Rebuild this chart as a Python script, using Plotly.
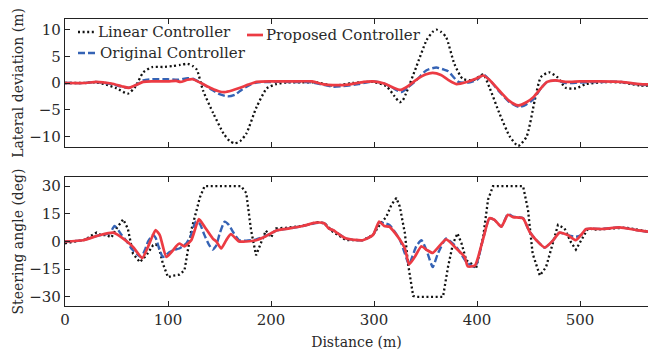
import plotly.graph_objects as go

# ---------------- data ----------------
# Top panel: lateral deviation (m)
lin_lat_d = [0, 15, 30, 40, 50, 61, 68, 76, 85, 95, 105, 112, 119, 124, 128, 134, 144, 154, 160, 165, 170, 176, 186, 196, 205, 215, 230, 245, 260, 279, 299, 312, 320, 325, 328, 331, 341, 351, 357, 360.5, 365, 370, 378, 386, 396, 406, 412, 422, 432, 440, 448, 456, 462, 470, 478.5, 486, 496, 506, 522, 540, 558, 570]
lin_lat_v = [0, 0, 0.1, -0.3, -1.0, -2.0, -0.8, 2.0, 3.0, 3.0, 3.2, 3.4, 3.6, 3.2, 2.5, -1.4, -5.7, -9.5, -10.9, -11.3, -10.9, -9.5, -4.5, -1.0, -0.2, 0.1, 0.1, 0.1, -0.5, 0, 0.2, -0.6, -2.5, -3.6, -3.2, -2.0, 3.0, 8.0, 9.6, 10.0, 9.6, 8.6, 3.6, 0.8, 0.5, 1.6, -0.8, -5.8, -10.1, -11.8, -10.1, -3.3, 1.1, 2.0, 1.0, -0.9, -1.0, -0.2, 0.15, 0.1, -0.45, -0.5]

org_lat_d = [0, 20, 30, 45, 55, 62, 70, 76, 85, 100, 110, 119, 124, 132, 142, 150, 158, 165, 172, 180, 186, 200, 220, 240, 250, 260, 270, 285, 299, 310, 318, 326.6, 333, 341, 351, 360.5, 368, 372, 382, 392, 400, 406, 412, 422, 431, 441, 448, 455, 462, 468, 476, 486, 500, 520, 540, 558, 570]
org_lat_v = [0, 0, 0.2, -0.2, -0.7, -0.9, -0.3, 0.5, 0.7, 0.7, 0.6, 0.9, 0.8, 0, -1.2, -2.1, -2.5, -2.2, -1.2, -0.3, 0.1, 0.2, 0.2, 0.1, -0.3, -0.7, -0.6, -0.2, 0.3, -0.1, -0.9, -1.7, -0.8, 0.5, 2.4, 2.9, 2.5, 2.2, 0.2, 0.1, 0.6, 1.6, 0.6, -1.7, -3.5, -4.5, -4.0, -3.0, -1.0, 0.2, 0.5, 0.0, 0.1, 0.2, 0.2, -0.3, -0.4]

pro_lat_d = [0, 20, 30, 45, 55, 62, 70, 76, 85, 100, 108, 112, 119, 124, 132, 142, 150, 155, 162, 170, 178, 186, 200, 220, 240, 250, 260, 275, 290, 299, 310, 318, 326, 333, 341, 350, 357, 365, 372, 380, 390, 400, 406, 412, 422, 431, 440, 448, 455, 462, 468, 476, 486, 500, 520, 540, 558, 570]
pro_lat_v = [0, 0, 0.2, -0.1, -0.6, -0.9, -0.3, 0.2, 0.3, 0.3, 0.4, 0.2, 0.6, 0.7, 0.0, -1.0, -1.6, -1.7, -1.4, -0.9, -0.3, 0.2, 0.3, 0.3, 0.3, -0.2, -0.4, -0.3, 0.2, 0.3, -0.1, -0.8, -1.3, -0.6, 0.6, 1.6, 1.9, 1.5, 0.6, -0.2, 0.2, 0.9, 1.4, 0.6, -1.5, -3.3, -4.2, -3.6, -2.6, -1.0, 0.2, 0.5, 0.2, 0.3, 0.3, 0.2, -0.2, -0.3]

# Bottom panel: steering angle (deg)
lin_st_d = [0, 10, 20, 25, 30.6, 35, 40, 45, 50, 56.5, 61, 66, 72.6, 79, 85.5, 88, 91, 95, 100, 105, 111, 116, 122.6, 127, 131, 135.5, 171, 176, 180.6, 185.5, 190, 195, 200, 205, 215, 230, 245, 252, 260, 273, 289, 299, 305.5, 312, 317, 321.7, 325, 330, 333, 338, 340, 367, 371.8, 376.7, 381, 385, 389.6, 394.5, 399, 406, 410.7, 415.5, 444.7, 449.5, 454, 461, 467, 474, 478.6, 485, 491, 496, 501, 507.8, 515, 530, 545, 555, 570]
lin_st_v = [-1, 0, 1, 3, 4.8, 3.5, 3.5, 2.2, 7.1, 12, 7, -6.6, -11.2, -7.5, -2, -1.5, -3, -12, -19.4, -18.5, -18, -15.7, 6.2, 15.4, 24, 30, 30, 26.3, 6.2, -7.5, -1, 5.9, 2.2, 7.1, 7.5, 8.4, 10.5, 9.9, 5.3, 0.7, 0.7, 3.5, 9, 13.5, 20, 23.6, 19, 4.4, -12, -29.5, -30, -30, -13.9, -1.1, 4.4, -1.1, -10.2, -12, -14.8, 2.6, 22.7, 30, 30, 17.2, -6.6, -18.5, -13.9, 0.7, 9, 7.1, -0.2, -4.4, 0.7, 7.1, 6.5, 7, 7.5, 6.5, 5]

org_st_d = [0, 15, 25, 30.6, 40, 43.5, 48, 52, 55, 60, 64.5, 70, 74, 78, 80.6, 85.5, 88, 91, 95, 101.6, 106, 111, 117.7, 122, 127, 131, 135, 140, 143.5, 147, 150, 155, 159, 163, 169, 176, 185, 195, 205, 218, 230.6, 243.5, 251.6, 256, 260, 273, 289, 299, 305, 310, 315, 325, 330, 334, 341, 346, 351, 357, 362, 370, 380, 389.6, 398, 406, 412, 417, 423.6, 430, 435, 444.7, 451, 457.6, 465.7, 474, 480, 488, 496, 501, 506, 522, 538.5, 554.7, 570]
org_st_v = [0, 0.5, 2, 3, 4, 4.4, 8.4, 6, 3.5, 0, -3.8, -7, -8.4, -4, 0, 3.5, 2, -3, -8.4, -5.7, -4.5, -3.8, -1.1, 3, 10.8, 9.5, 4, -2, -4.4, -2, 4, 10.8, 9, 5.3, 0.7, 0.5, 1, 3, 5.9, 7.1, 8.4, 10, 10, 7.1, 6.2, 1.6, 0.7, 3.5, 10.3, 9.9, 9, 1.1, -6.6, -12.4, -2.6, 0.7, -4.8, -13.9, -6.6, 1.6, -3, -11, -13.9, 1.6, 12.6, 11.7, 8, 15, 13.5, 12.6, 5.3, 0.7, -3.3, 0.7, 4.8, 3.5, 2.6, 3.5, 6.8, 6.8, 7.7, 6.2, 5]

pro_st_d = [0, 17.7, 34, 46.8, 56.5, 66, 75, 80.6, 85, 88, 92, 98.4, 104.8, 108, 111, 116, 122.6, 130, 135.5, 143.5, 147, 151.6, 156.5, 161, 169, 176, 185.5, 195, 205, 218, 230.6, 243.5, 251.6, 256, 260, 273, 289, 299, 305, 310, 315, 325, 330, 334, 339.5, 346, 351, 357, 370, 380, 388, 391, 398, 406, 412, 417, 423.6, 430, 435, 444.7, 451, 457.6, 465.7, 474, 480, 488, 496, 501, 506, 522, 538.5, 554.7, 570]
pro_st_v = [0, 0.7, 3.5, 4.8, 1.6, -2.9, -9, -2.9, 3, 6.2, 3.5, -8.4, -4.8, -2.5, -1.1, -2.6, 0.7, 12.1, 8, 1.6, 0, -3.8, 0.7, 4, 0, 0, 0.7, 2.9, 5.9, 7.1, 8.4, 10.2, 9.9, 7.1, 6.2, 1.6, 0.7, 3.5, 10.8, 8.4, 8, 1.1, -3.8, -12.4, -8.4, -2.6, -4.5, -6.2, 1.1, -3.8, -8.4, -13.5, -13, 1.6, 12.6, 11.7, 8, 14.5, 13.2, 12.6, 5.3, 0.7, -3.3, 0.7, 4.8, 3.5, 0.7, 3.5, 6.8, 6.8, 7.7, 6.2, 5]

series_names = ["Linear Controller", "Original Controller", "Proposed Controller"]
x_ticks = [0, 100, 200, 300, 400, 500]
lat_ticks = [-10, -5, 0, 5, 10]
st_ticks = [-30, -15, 0, 15, 30]

# ---------------- styling ----------------
FONT = "DejaVu Serif"
TXT = "#2a2a2a"
BLACK = "#111111"
BLUE = "#3563b5"
RED = "#ec3b43"
DOT = "2px,2.6px"
DASH = "7px,3px"

W, H = 648, 354
ML, MR, MT, MB = 65, 0, 19, 48
PW, PH = W - ML - MR, H - MT - MB


def px2x(px):
    return (px - ML) / PW


def py2y(py):
    return (H - MB - py) / PH


fig = go.Figure()

styles = [
    (dict(color=BLACK, width=2.3, dash=DOT), "linear"),
    (dict(color=BLUE, width=2.4, dash=DASH), "spline"),
    (dict(color=RED, width=2.7), "spline"),
]
top = [(lin_lat_d, lin_lat_v), (org_lat_d, org_lat_v), (pro_lat_d, pro_lat_v)]
bot = [(lin_st_d, lin_st_v), (org_st_d, org_st_v), (pro_st_d, pro_st_v)]

for (d, v), (ln, shape), name in zip(top, styles, series_names):
    fig.add_trace(go.Scatter(x=d, y=v, mode="lines", name=name, line=dict(ln, shape="spline", smoothing=0.6),
                             xaxis="x", yaxis="y", showlegend=False))
for (d, v), (ln, shape), name in zip(bot, styles, series_names):
    kw = dict(shape=shape)
    if shape == "spline":
        kw["smoothing"] = 0.5
    fig.add_trace(go.Scatter(x=d, y=v, mode="lines", name=name, line=dict(ln, **kw),
                             xaxis="x2", yaxis="y2", showlegend=False))

axis_common = dict(showgrid=False, zeroline=False, showline=True, linecolor="#222222", linewidth=1.4,
                   ticks="inside", ticklen=5, tickwidth=1.2, tickcolor="#222222", automargin=False,
                   tickfont=dict(family=FONT, size=15, color=TXT))

top_dom = [py2y(147), 1.0]
bot_dom = [0.0, py2y(177)]

fig.update_layout(
    width=W, height=H,
    margin=dict(l=ML, r=MR, t=MT, b=MB, pad=0, autoexpand=False),
    paper_bgcolor="white", plot_bgcolor="white",
    font=dict(family=FONT, color=TXT),
    showlegend=False,
    xaxis=dict(axis_common, domain=[0, 1], anchor="y", range=[0, 566], tickvals=x_ticks,
               showticklabels=False, mirror="ticks"),
    yaxis=dict(axis_common, domain=top_dom, anchor="x", range=[-12, 12], tickvals=lat_ticks,
               title=dict(text="Lateral deviation (m)", font=dict(family=FONT, size=14, color=TXT), standoff=2)),
    xaxis2=dict(axis_common, domain=[0, 1], anchor="y2", range=[0, 566], tickvals=x_ticks,
                mirror="ticks",
                title=dict(text="Distance (m)", font=dict(family=FONT, size=14, color=TXT), standoff=8)),
    yaxis2=dict(axis_common, domain=bot_dom, anchor="x2", range=[-35, 35], tickvals=st_ticks,
                title=dict(text="Steering angle (deg)", font=dict(family=FONT, size=14, color=TXT), standoff=2)),
)

# Manual legend (short samples as in the reference)
leg = [
    (78, 95, 32, dict(color=BLACK, width=2.3, dash=DOT), series_names[0]),
    (78, 97, 53, dict(color=BLUE, width=2.4, dash=DASH), series_names[1]),
    (247, 263, 35, dict(color=RED, width=2.7), series_names[2]),
]
for x0, x1, yy, ln, txt in leg:
    fig.add_shape(type="line", xref="paper", yref="paper", x0=px2x(x0), x1=px2x(x1), y0=py2y(yy), y1=py2y(yy), line=ln)
    fig.add_annotation(xref="paper", yref="paper", x=px2x(x1 + 1), y=py2y(yy), text=txt, showarrow=False,
                       xanchor="left", yanchor="middle", font=dict(family=FONT, size=15, color=TXT))

fig.write_html("out.html", config={"displayModeBar": False},
               post_script="document.body.style.margin='0';document.body.style.padding='0';")
